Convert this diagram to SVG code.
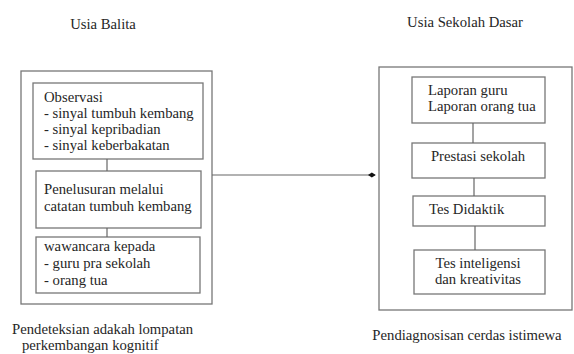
<svg xmlns="http://www.w3.org/2000/svg" width="574" height="354" viewBox="0 0 574 354">
<defs>
<marker id="ah" viewBox="0 0 10 10" refX="9" refY="5" markerWidth="8" markerHeight="8" markerUnits="userSpaceOnUse" orient="auto">
<path d="M0,5 L5,2 L10,5 L5,8 Z" fill="#111"/>
</marker>
</defs>
<rect width="574" height="354" fill="#fff"/>
<g id="label-left-title"><text font-family="Liberation Serif" font-size="14.7" fill="#262626" text-anchor="middle" x="103" y="29">Usia Balita</text></g>
<g id="label-right-title"><text font-family="Liberation Serif" font-size="14.7" fill="#262626" text-anchor="middle" x="465" y="27">Usia Sekolah Dasar</text></g>
<g id="group-left">
<rect fill="none" stroke="#777" stroke-width="1.3" x="21" y="71" width="191" height="233"/>
</g>
<g id="group-right">
<rect fill="none" stroke="#777" stroke-width="1.3" x="379" y="67" width="193" height="243"/>
</g>
<g id="node-observasi">
<rect fill="none" stroke="#777" stroke-width="1.3" x="33" y="83" width="170" height="76"/>
<text font-family="Liberation Serif" font-size="14.7" fill="#262626" x="44" y="102">Observasi</text>
<text font-family="Liberation Serif" font-size="14.7" fill="#262626" x="44" y="118">- sinyal tumbuh kembang</text>
<text font-family="Liberation Serif" font-size="14.7" fill="#262626" x="44" y="134">- sinyal kepribadian</text>
<text font-family="Liberation Serif" font-size="14.7" fill="#262626" x="44" y="150">- sinyal keberbakatan</text>
</g>
<g id="node-penelusuran">
<rect fill="none" stroke="#777" stroke-width="1.3" x="36" y="171" width="165" height="57"/>
<text font-family="Liberation Serif" font-size="14.7" fill="#262626" x="44" y="194">Penelusuran melalui</text>
<text font-family="Liberation Serif" font-size="14.7" fill="#262626" x="44" y="211">catatan tumbuh kembang</text>
</g>
<g id="node-wawancara">
<rect fill="none" stroke="#777" stroke-width="1.3" x="36" y="237" width="164" height="56"/>
<text font-family="Liberation Serif" font-size="14.7" fill="#262626" x="44" y="251">wawancara kepada</text>
<text font-family="Liberation Serif" font-size="14.7" fill="#262626" x="44" y="268">- guru pra sekolah</text>
<text font-family="Liberation Serif" font-size="14.7" fill="#262626" x="44" y="285">- orang tua</text>
</g>
<g id="node-laporan">
<rect fill="none" stroke="#777" stroke-width="1.3" x="412" y="77" width="133" height="46"/>
<text font-family="Liberation Serif" font-size="14.7" fill="#262626" x="428" y="95">Laporan guru</text>
<text font-family="Liberation Serif" font-size="14.7" fill="#262626" x="428" y="111">Laporan orang tua</text>
</g>
<g id="node-prestasi">
<rect fill="none" stroke="#777" stroke-width="1.3" x="412" y="143" width="133" height="35"/>
<text font-family="Liberation Serif" font-size="14.7" fill="#262626" text-anchor="middle" x="478" y="161">Prestasi sekolah</text>
</g>
<g id="node-didaktik">
<rect fill="none" stroke="#777" stroke-width="1.3" x="413" y="196" width="132" height="30"/>
<text font-family="Liberation Serif" font-size="14.7" fill="#262626" x="429" y="214">Tes Didaktik</text>
</g>
<g id="node-inteligensi">
<rect fill="none" stroke="#777" stroke-width="1.3" x="414" y="250" width="131" height="44"/>
<text font-family="Liberation Serif" font-size="14.7" fill="#262626" text-anchor="middle" x="478" y="268">Tes inteligensi</text>
<text font-family="Liberation Serif" font-size="14.7" fill="#262626" text-anchor="middle" x="478" y="284">dan kreativitas</text>
</g>
<g id="caption-left">
<text font-family="Liberation Serif" font-size="14.7" fill="#262626" x="12" y="334">Pendeteksian adakah lompatan</text>
<text font-family="Liberation Serif" font-size="14.7" fill="#262626" x="22" y="350">perkembangan kognitif</text>
</g>
<g id="caption-right"><text font-family="Liberation Serif" font-size="14.7" fill="#262626" text-anchor="middle" x="467" y="340">Pendiagnosisan cerdas istimewa</text></g>
<g id="connectors" stroke="#666" stroke-width="1.2" fill="none">
<line x1="107" y1="159" x2="107" y2="171"/>
<line x1="107" y1="228" x2="107" y2="237"/>
<line x1="473" y1="123" x2="473" y2="143"/>
<line x1="474" y1="178" x2="474" y2="196"/>
<line x1="475" y1="226" x2="475" y2="250"/>
<line x1="212" y1="175" x2="375" y2="175" marker-end="url(#ah)"/>
</g>
</svg>
